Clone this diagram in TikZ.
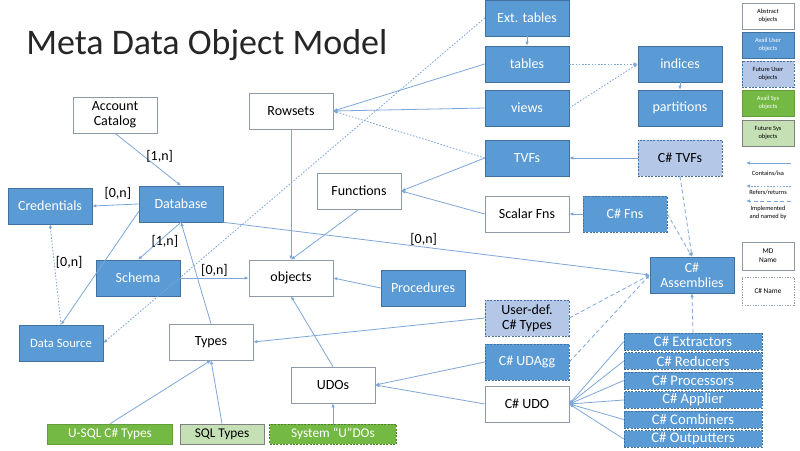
\documentclass[tikz,border=0pt]{standalone}
\usepackage{fontspec}
\setmainfont{Carlito}
\usetikzlibrary{arrows.meta}
\definecolor{mblue}{HTML}{5B9BD5}
\definecolor{mbluedk}{HTML}{41719C}
\definecolor{lblue}{HTML}{B4C7E7}
\definecolor{mgreen}{HTML}{74B943}
\definecolor{lgreen}{HTML}{C5E0B4}
\definecolor{linec}{HTML}{7DA7D9}
\definecolor{boxgray}{HTML}{8E9AA8}
\begin{document}
\begin{tikzpicture}[x=0.75pt,y=-0.75pt,
 base/.style={minimum width=63pt,minimum height=27pt,inner sep=1pt,align=center,font=\fontsize{10.5}{11.5}\selectfont},
 abs/.style={base,draw=boxgray,fill=white,text=black},
 usr/.style={base,draw=mbluedk,fill=mblue,text=white},
 usrcs/.style={usr,dash pattern=on 1.5pt off 1pt},
 fut/.style={base,draw=mbluedk,fill=lblue,text=black,dash pattern=on 1.5pt off 1pt},
 sys/.style={base,fill=mgreen,draw=mgreen!85!black,text=white},
 fsys/.style={base,fill=lgreen,draw=gray,text=black},
 csbox/.style={usrcs,minimum width=103.5pt,minimum height=12.5pt,inner sep=0pt,font=\fontsize{11}{12}\selectfont},
 botbox/.style={minimum height=15pt,inner sep=0pt,font=\fontsize{10}{11}\selectfont},
 leg/.style={minimum width=39pt,minimum height=19.5pt,inner sep=0.5pt,align=center,font=\fontsize{4.8}{5.8}\selectfont},
 legtxt/.style={inner sep=0pt,align=center,font=\fontsize{4.8}{5.8}\selectfont},
 con/.style={draw=linec,line width=0.6pt,-{Latex[length=3pt,width=2.6pt]}},
 refl/.style={con,dash pattern=on 1.2pt off 1.2pt},
 impl/.style={con,dash pattern=on 3pt off 2pt},
 lbl/.style={font=\fontsize{10.5}{11}\selectfont,text=black,inner sep=1pt},
]
\useasboundingbox (0,0) rectangle (800,450);
\fill[white] (0,0) rectangle (800,450);

% title
\node[anchor=west,inner sep=0pt,text=black!85,font=\fontsize{27}{30}\selectfont] (title) at (26,45) {Meta Data Object Model};

% left part
\node[abs] (acct) at (115,115) {Account\\Catalog};
\node[usr] (db) at (181,204) {Database};
\node[usr] (cred) at (50,206) {Credentials};
\node[usr] (schema) at (138,278) {Schema};
\node[usr,font=\fontsize{9.5}{11}\selectfont] (ds) at (61,343) {Data Source};
\node[abs] (types) at (211,342) {Types};

% middle
\node[abs] (rows) at (291,111) {Rowsets};
\node[abs] (func) at (359,191) {Functions};
\node[abs] (obj) at (291,278) {objects};
\node[usr] (proc) at (423,288) {Procedures};
\node[abs] (udos) at (333,385) {UDOs};

% right column
\node[usr] (ext) at (527,18) {Ext. tables};
\node[usr] (tables) at (527,64) {tables};
\node[usr] (views) at (527,108) {views};
\node[usr] (tvfs) at (527,158) {TVFs};
\node[abs] (sfn) at (527,214) {Scalar Fns};
\node[fut] (udt) at (527,318) {User-def.\\C\# Types};
\node[usrcs] (udagg) at (527,362) {C\# UDAgg};
\node[abs] (cudo) at (527,404) {C\# UDO};

\node[usr] (ind) at (680,64) {indices};
\node[usr] (part) at (680,108) {partitions};
\node[fut] (ctvf) at (680,158) {C\# TVFs};
\node[usrcs] (cfn) at (625,214) {C\# Fns};
\node[usr] (asm) at (692,275) {C\#\\Assemblies};

\node[csbox] (cext) at (693,341.5) {C\# Extractors};
\node[csbox] (cred2) at (693,361) {C\# Reducers};
\node[csbox] (cproc) at (693,380.5) {C\# Processors};
\node[csbox] (capp) at (693,400) {C\# Applier};
\node[csbox] (ccomb) at (693,419.5) {C\# Combiners};
\node[csbox] (cout) at (693,439) {C\# Outputters};

% bottom
\node[sys,botbox,minimum width=94pt] (usqlt) at (110,434) {U-SQL C\# Types};
\node[fsys,botbox,minimum width=63pt] (sqlt) at (222,434) {SQL Types};
\node[sys,botbox,minimum width=95pt,draw=mgreen!70!black,dash pattern=on 1.5pt off 1pt] (sysudo) at (333,434) {System “U”DOs};

% legend
\node[abs,leg] (lg1) at (768,16) {Abstract\\objects};
\node[usr,leg] (lg2) at (768,45) {Avail User\\objects};
\node[fut,leg] (lg3) at (768,74) {Future User\\objects};
\node[sys,leg] (lg4) at (768,103) {Avail Sys\\objects};
\node[fsys,leg] (lg5) at (768,133) {Future Sys\\objects};
\coordinate (l1a) at (791,163); \coordinate (l1b) at (746,163);
\coordinate (l2a) at (791,186); \coordinate (l2b) at (746,186);
\coordinate (l3a) at (791,201); \coordinate (l3b) at (746,201);
\draw[con] (l1a) -- (l1b);
\draw[refl] (l2a) -- (l2b);
\draw[impl] (l3a) -- (l3b);
\node[legtxt] (lt1) at (768,173) {Contains/isa};
\node[legtxt] (lt2) at (768,192) {Refers/returns};
\node[legtxt] (lt3) at (768,213) {Implemented\\and named by};
\node[abs,leg,font=\fontsize{5.5}{6.5}\selectfont,minimum height=21pt] (lg6) at (768,256) {MD\\Name};
\node[abs,leg,font=\fontsize{5.5}{6.5}\selectfont,minimum height=21pt,dash pattern=on 1pt off 1pt] (lg7) at (768,291) {C\# Name};

% contains / isa connectors
\draw[con] (acct.south) -- node[lbl,right,pos=0.45]{[1,n]} (db.north);
\draw[con] (db.west) -- node[lbl,above,pos=0.45,yshift=3pt]{[0,n]} (cred.east);
\draw[con] (db.south) -- node[lbl,pos=0.5,xshift=4pt]{[1,n]} (schema.north);
\draw[con] (db.190) -- (ds.north);
\draw[con] (schema.east) -- node[lbl,above]{[0,n]} (obj.west);
\draw[con] (types.north) -- (db.south);
\draw[con] (db.south east) -- node[lbl,above,pos=0.47]{[0,n]} (asm.west);
\draw[con] (tables.west) -- (rows.east);
\draw[con] (views.west) -- (rows.east);
\draw[con] (tvfs.west) -- (func.east);
\draw[con] (sfn.west) -- (func.east);
\draw[con] (rows.south) -- (obj.north);
\draw[con] (func.south) -- (obj.north);
\draw[con] (proc.west) -- (obj.east);
\draw[con] (udos.north) -- (obj.south);
\draw[con] (ctvf.west) -- (tvfs.east);
\draw[con] (cfn.west) -- (sfn.east);
\draw[con] (udt.west) -- (types.east);
\draw[con] (udagg.west) -- (udos.east);
\draw[con] (cudo.west) -- (udos.east);
\foreach \n in {cext,cred2,cproc,capp,ccomb,cout}
  \draw[con] (\n.west) -- (cudo.east);
\draw[con] (usqlt.north) -- (types.south);
\draw[con] (sqlt.north) -- (types.south);
\draw[con] (sysudo.north) -- (udos.south);
\draw[con] (ext.south) -- (tables.north);
\draw[con] (ind.south) -- (part.north);

% refers / returns
\draw[refl] (ext.west) -- (ds.east);
\draw[refl] (tables.east) -- (ind.west);
\draw[refl] (views.east) -- (ind.west);
\draw[refl] (tvfs.west) -- (rows.east);
\draw[refl] (ds.north) -- node[lbl,right,pos=0.62]{[0,n]} (cred.south);

% implemented and named by
\draw[impl] (ctvf.south) -- (asm.north);
\draw[impl] (cfn.east) -- (asm.north);
\draw[impl] (udt.east) -- (asm.west);
\draw[impl] (udagg.east) -- (asm.west);
\draw[impl] (cext.north) -- (asm.south);
\end{tikzpicture}
\end{document}
